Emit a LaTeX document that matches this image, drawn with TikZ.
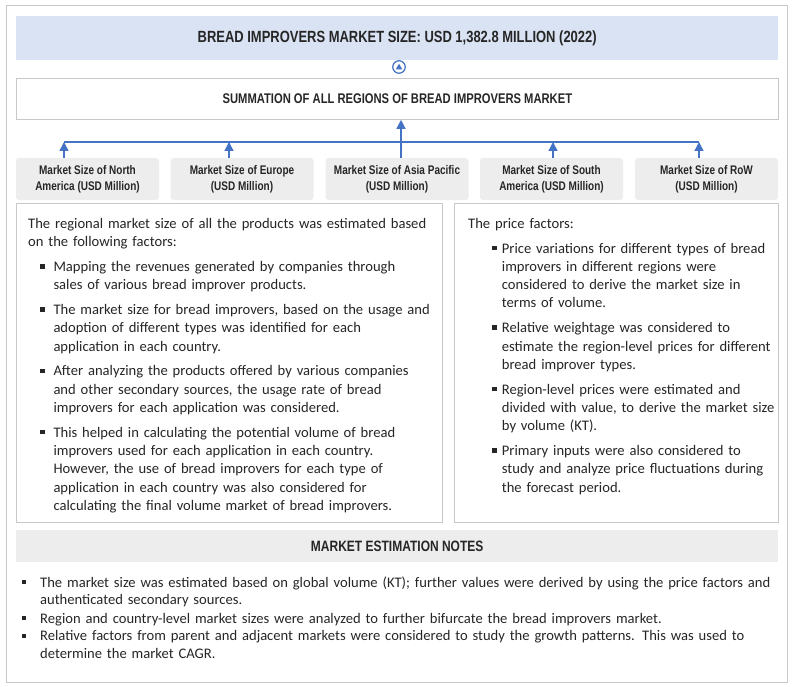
\documentclass[tikz,border=0pt]{standalone}
\usepackage{fontspec}
\setmainfont{Carlito}
\newfontfamily\hfont[FakeStretch=0.8]{Liberation Sans}
\usetikzlibrary{arrows.meta}
\definecolor{tblue}{HTML}{DAE3F3}
\definecolor{ablue}{HTML}{4472C4}
\definecolor{gline}{HTML}{C8C8C8}
\definecolor{gfill}{HTML}{EDEDED}
\definecolor{txt}{HTML}{262626}
\newcommand{\bulitem}[2]{\par\vspace{#1}\noindent\llap{\rule[2.8pt]{4.5pt}{4.5pt}\hspace{#2}}}
\begin{document}
\begin{tikzpicture}[x=1pt,y=-1pt,
  frame/.style={draw=gline, line width=0.8pt, inner sep=0pt, anchor=north west},
  regbox/.style={fill=gfill, rounded corners=3pt, minimum width=143pt, minimum height=42pt, inner sep=0pt, align=center, font=\hfont\bfseries\fontsize{12.5}{16}\selectfont, text=txt, execute at begin node={\rule{0pt}{14.5pt}}},
  arr/.style={draw=ablue, line width=1.3pt, -{Triangle[width=9pt,length=9pt]}},
  body/.style={inner sep=0pt, anchor=base west, align=left, text=txt, font=\fontsize{14.6}{18.3}\selectfont},
  head/.style={text=txt, font=\hfont\bfseries\fontsize{14}{17}\selectfont},
]
\useasboundingbox (0,0) rectangle (797,687);
\draw[gline, line width=1pt] (6,6) rectangle (787,682);

\node[fill=tblue, inner sep=0pt, anchor=north west, minimum width=762pt, minimum height=44pt, text=txt, font=\hfont\bfseries\fontsize{16.2}{19}\selectfont] (title) at (16,16) {BREAD IMPROVERS MARKET SIZE: USD 1,382.8 MILLION (2022)};

\node[circle, draw=ablue, line width=1.2pt, minimum size=12.5pt, inner sep=0pt] (circ) at (399,67) {};
\fill[ablue] (395.8,69.3) -- (402.2,69.3) -- (399,63.7) -- cycle;

\node[frame, fill=white, minimum width=762pt, minimum height=41pt, head] (sum) at (16,78) {SUMMATION OF ALL REGIONS OF BREAD IMPROVERS MARKET};

\node[regbox] (r1) at (87.5,179) {Market Size of North\\America (USD Million)};
\node[regbox] (r2) at (242,179) {Market Size of Europe\\(USD Million)};
\node[regbox] (r3) at (397,179) {Market Size of Asia Pacific\\(USD Million)};
\node[regbox] (r4) at (551.5,179) {Market Size of South\\America (USD Million)};
\node[regbox] (r5) at (706.5,179) {Market Size of RoW\\(USD Million)};

\coordinate (b1) at (64,142);
\coordinate (b2) at (229,142);
\coordinate (b3) at (401,142);
\coordinate (b4) at (553,142);
\coordinate (b5) at (699,142);
\draw[ablue, line width=1.3pt] (b1) -- (b5);
\draw[arr] (r1.north -| b1) -- (b1);
\draw[arr] (r2.north -| b2) -- (b2);
\draw[arr] (r4.north -| b4) -- (b4);
\draw[arr] (r5.north -| b5) -- (b5);
\draw[arr] (r3.north -| b3) -- (sum.south -| b3);

\node[frame, fill=white, minimum width=426pt, minimum height=319pt] (lbox) at (16,203) {};
\node[frame, fill=white, minimum width=324pt, minimum height=319pt] (rbox) at (454,203) {};

\node[body, text width=440pt] (ltext) at (28,228) {%
The regional market size of all the products was estimated based\\
on the following factors:
\bulitem{6.7pt}{9pt}\leftskip=25.3pt Mapping the revenues generated by companies through\\ sales of various bread improver products.
\bulitem{6.5pt}{9pt}The market size for bread improvers, based on the usage and\\ adoption of different types was identified for each\\ application in each country.
\bulitem{6.5pt}{9pt}After analyzing the products offered by various companies\\ and other secondary sources, the usage rate of bread\\ improvers for each application was considered.
\bulitem{6.5pt}{9pt}This helped in calculating the potential volume of bread\\ improvers used for each application in each country.\\ However, the use of bread improvers for each type of\\ application in each country was also considered for\\ calculating the final volume market of bread improvers.\par};

\node[body, text width=340pt] (rtext) at (468,228) {%
The price factors:
\bulitem{6.7pt}{5pt}\leftskip=33.7pt Price variations for different types of bread\\ improvers in different regions were\\ considered to derive the market size in\\ terms of volume.
\bulitem{6.5pt}{5pt}Relative weightage was considered to\\ estimate the region-level prices for different\\ bread improver types.
\bulitem{6.5pt}{5pt}Region-level prices were estimated and\\ divided with value, to derive the market size\\ by volume (KT).
\bulitem{6.5pt}{5pt}Primary inputs were also considered to\\ study and analyze price fluctuations during\\ the forecast period.\par};

\node[fill=gfill, inner sep=0pt, anchor=north west, minimum width=762pt, minimum height=32pt, text=txt, font=\hfont\bfseries\fontsize{15}{17}\selectfont] (notes) at (16,530) {MARKET ESTIMATION NOTES};

\node[body, text width=780pt, font=\fontsize{14.6}{17.6}\selectfont] (ntext) at (40,587) {%
\noindent\llap{\rule[2.8pt]{4.5pt}{4.5pt}\hspace{14pt}}The market size was estimated based on global volume (KT); further values were derived by using the price factors and\\ authenticated secondary sources.
\bulitem{1pt}{14pt}Region and country-level market sizes were analyzed to further bifurcate the bread improvers market.
\bulitem{0pt}{14pt}Relative factors from parent and adjacent markets were considered to study the growth patterns. This was used to\\ determine the market CAGR.\par};
\end{tikzpicture}
\end{document}
